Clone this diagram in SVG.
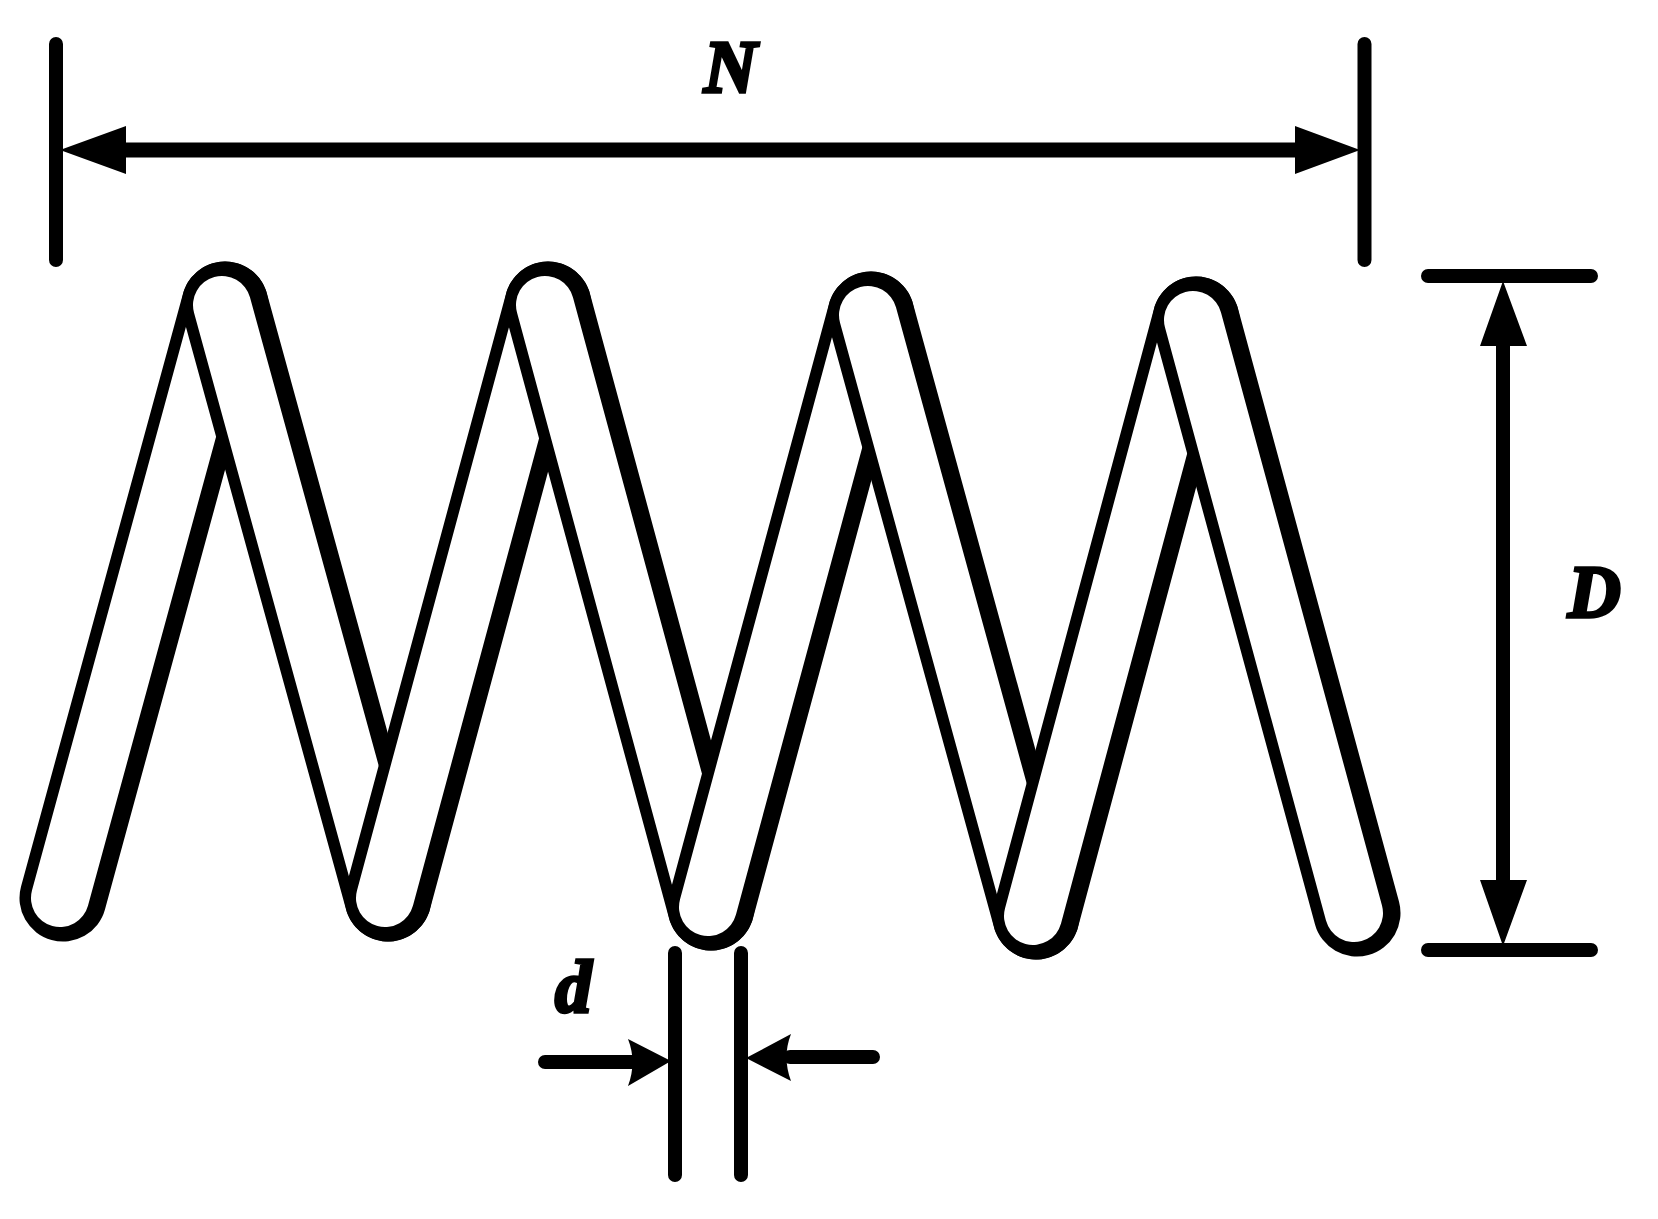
<svg xmlns="http://www.w3.org/2000/svg" width="1658" height="1219" viewBox="0 0 1658 1219">
<style>
.o{stroke:#000;stroke-width:87;stroke-linecap:round;fill:none}
.i{stroke:#fff;stroke-width:58;stroke-linecap:round;fill:none}
.b{stroke:#000;stroke-width:14;stroke-linecap:round;fill:none}
.f{stroke:#000;stroke-width:15;fill:none}
.t{font-family:"Liberation Serif",serif;font-style:italic;font-weight:bold;font-size:73px;fill:#000;stroke:#000;stroke-width:3.5px}
</style>
<rect width="1658" height="1219" fill="#fff"/>
<g id="spring">
<g id="s1"><path class="o" d="M63 898L225 305"/><path class="i" d="M60 898L222 305"/></g>
<g id="s2"><path class="o" d="M225 305L388 898"/><path class="i" d="M222 305L385 898"/></g>
<g id="s3"><path class="o" d="M388 898L548 305"/><path class="i" d="M385 898L545 305"/></g>
<g id="s4"><path class="o" d="M548 305L711 907"/><path class="i" d="M545 305L708 907"/></g>
<g id="s5"><path class="o" d="M711 907L871 315"/><path class="i" d="M708 907L868 315"/></g>
<g id="s6"><path class="o" d="M871 315L1036 916"/><path class="i" d="M868 315L1033 916"/></g>
<g id="s7"><path class="o" d="M1036 916L1196 320"/><path class="i" d="M1033 916L1193 320"/></g>
<g id="s8"><path class="o" d="M1196 320L1357 913"/><path class="i" d="M1193 320L1354 913"/></g>
</g>
<g id="connectors">
<path class="b" d="M56 44V260M1364.500 44V260M1428 276H1591M1428 950H1591M675 953V1175M741 953V1175M1503 340V890"/>
<path class="f" d="M120 150H1300"/>
<path d="M60 150L126 126V174Z M1360 150L1295 126V174Z M1503 281L1480 346H1527Z M1503 946L1480 880H1527Z"/>
<path class="b" d="M545 1062H640M790 1057H873"/>
<path d="M671 1061L628 1039Q637 1062 628 1086Z M746 1058L791 1034Q782 1057 791 1081Z"/>
</g>
<text class="t" x="704" y="92">N</text>
<text class="t" x="555" y="1012">d</text>
<text class="t" x="1568" y="617">D</text>
</svg>
